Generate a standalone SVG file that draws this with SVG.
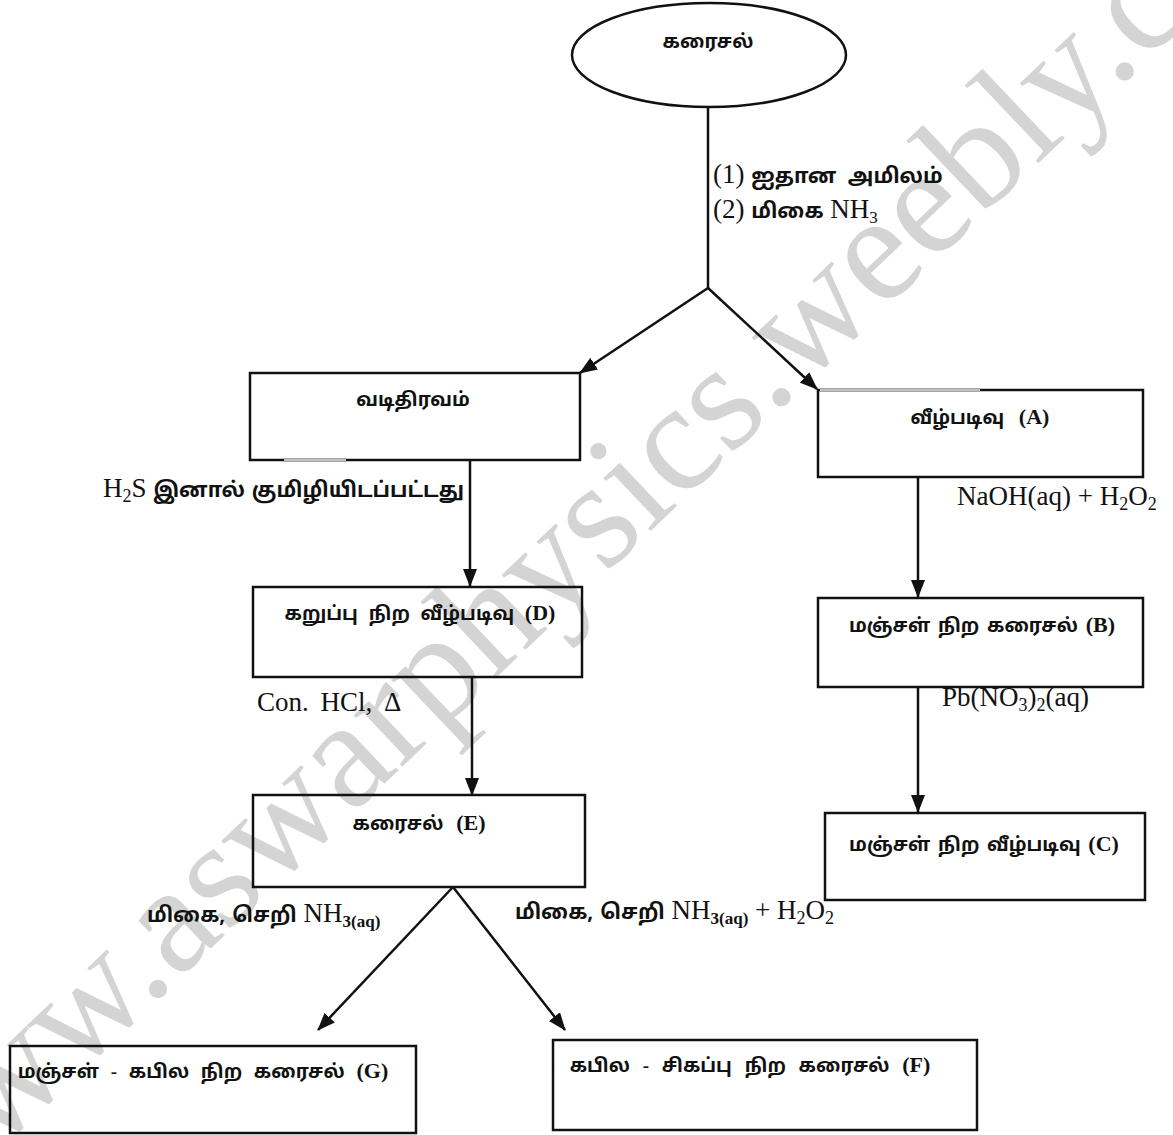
<svg xmlns="http://www.w3.org/2000/svg" width="1173" height="1135" viewBox="0 0 1173 1135">
<defs>
<marker id="ah" viewBox="0 0 18 14" refX="17" refY="7" markerWidth="18" markerHeight="14" markerUnits="userSpaceOnUse" orient="auto">
<path d="M0,0 L18,7 L0,14 z" fill="#111"/>
</marker>
</defs>
<style>
.box{fill:none;stroke:#111;stroke-width:2.5}
.wire{fill:none;stroke:#111;stroke-width:2.5}
.nt{font-family:"Liberation Serif","Noto Sans Tamil","Noto Sans",serif;font-size:19px;font-weight:bold;fill:#111;text-anchor:middle}
.nt .l{font-size:22px}
.lb{font-family:"Liberation Serif","Noto Sans Tamil","Noto Sans",serif;font-size:27px;fill:#111}
.lb .ta{font-family:"Noto Sans Tamil","Liberation Sans",sans-serif;font-size:21px;font-weight:bold}
.wm{font-family:"Liberation Serif",serif;font-size:154px;fill:#d4d4d4}
.gr{stroke:#9a9a9a;stroke-width:3.5}
.gw{stroke:#e8e8e8;stroke-width:1.2}
</style>
<g id="watermark">
<text class="wm" transform="translate(-86,1230) rotate(-43.5)">www.aswarphysics.weebly.com</text>
</g>
<g id="connectors">
<line class="wire" x1="708" y1="106" x2="708" y2="288"/>
<line class="wire" x1="708" y1="288" x2="580" y2="373" marker-end="url(#ah)"/>
<line class="wire" x1="708" y1="288" x2="817" y2="389" marker-end="url(#ah)"/>
<line class="wire" x1="918" y1="477" x2="918" y2="597" marker-end="url(#ah)"/>
<line class="wire" x1="918" y1="687" x2="918" y2="812" marker-end="url(#ah)"/>
<line class="wire" x1="470" y1="460" x2="470" y2="586" marker-end="url(#ah)"/>
<line class="wire" x1="472" y1="677" x2="472" y2="795" marker-end="url(#ah)"/>
<line class="wire" x1="453" y1="887" x2="318" y2="1030" marker-end="url(#ah)"/>
<line class="wire" x1="453" y1="887" x2="565" y2="1030" marker-end="url(#ah)"/>
</g>
<g id="labels">
<text class="lb" x="713" y="183" font-size="25">(1)  <tspan class="ta" word-spacing="6">ஐதான அமிலம்</tspan></text>
<text class="lb" x="713" y="218" font-size="25">(2)  <tspan class="ta">மிகை</tspan>  NH<tspan font-size="17" dy="5">3</tspan></text>
<text class="lb" x="957" y="505">NaOH(aq) + H<tspan font-size="18" dy="5">2</tspan><tspan dy="-5">O</tspan><tspan font-size="18" dy="5">2</tspan></text>
<text class="lb" x="942" y="706">Pb(NO<tspan font-size="18" dy="5">3</tspan><tspan dy="-5">)</tspan><tspan font-size="18" dy="5">2</tspan><tspan dy="-5">(aq)</tspan></text>
<text class="lb" x="103" y="497">H<tspan font-size="18" dy="5">2</tspan><tspan dy="-5">S  </tspan><tspan class="ta" font-size="20">இனால்</tspan>  <tspan class="ta" font-size="20">குமிழியிடப்பட்டது</tspan></text>
<text class="lb" x="257" y="711" word-spacing="5">Con. HCl, Δ</text>
<text class="lb" x="147" y="922"><tspan class="ta">மிகை,</tspan>  <tspan class="ta">செறி</tspan>  NH<tspan font-size="17" font-weight="bold" dy="5">3(aq)</tspan></text>
<text class="lb" x="515" y="919"><tspan class="ta">மிகை,</tspan>  <tspan class="ta">செறி</tspan>  NH<tspan font-size="17" font-weight="bold" dy="5">3(aq)</tspan><tspan dy="-5"> + H</tspan><tspan font-size="18" dy="5">2</tspan><tspan dy="-5">O</tspan><tspan font-size="18" dy="5">2</tspan></text>
</g>
<g id="n-start">
<ellipse class="box" cx="709" cy="55" rx="137" ry="52"/>
<text class="nt" x="708" y="48" font-size="20">கரைசல்</text>
</g>
<g id="n-filtrate">
<rect class="box" x="250" y="373" width="330" height="87"/>
<line class="gr" x1="284" y1="460" x2="346" y2="460"/>
<line class="gw" x1="284" y1="460" x2="346" y2="460"/>
<text class="nt" x="413" y="406">வடிதிரவம்</text>
</g>
<g id="n-A">
<rect class="box" x="818" y="390" width="325" height="87"/>
<line class="gr" x1="820" y1="390" x2="980" y2="390"/>
<line class="gw" x1="820" y1="390" x2="980" y2="390"/>
<text class="nt" x="980" y="424" word-spacing="10">வீழ்படிவு <tspan class="l">(A)</tspan></text>
</g>
<g id="n-B">
<rect class="box" x="818" y="598" width="325" height="89"/>
<text class="nt" x="982" y="632" word-spacing="3">மஞ்சள் நிற கரைசல் <tspan class="l">(B)</tspan></text>
</g>
<g id="n-C">
<rect class="box" x="825" y="813" width="320" height="87"/>
<text class="nt" x="984" y="851" word-spacing="3">மஞ்சள் நிற வீழ்படிவு <tspan class="l">(C)</tspan></text>
</g>
<g id="n-D">
<rect class="box" x="253" y="587" width="329" height="90"/>
<text class="nt" x="420" y="620" word-spacing="6">கறுப்பு நிற வீழ்படிவு <tspan class="l">(D)</tspan></text>
</g>
<g id="n-E">
<rect class="box" x="253" y="795" width="332" height="92"/>
<text class="nt" x="419" y="830" word-spacing="8">கரைசல் <tspan class="l">(E)</tspan></text>
</g>
<g id="n-G">
<rect class="box" x="10" y="1046" width="406" height="87"/>
<text class="nt" x="203" y="1078" word-spacing="7">மஞ்சள் - கபில நிற கரைசல் <tspan class="l">(G)</tspan></text>
</g>
<g id="n-F">
<rect class="box" x="553" y="1040" width="424" height="90"/>
<text class="nt" x="750" y="1072" word-spacing="8">கபில - சிகப்பு நிற கரைசல் <tspan class="l">(F)</tspan></text>
</g>
</svg>
